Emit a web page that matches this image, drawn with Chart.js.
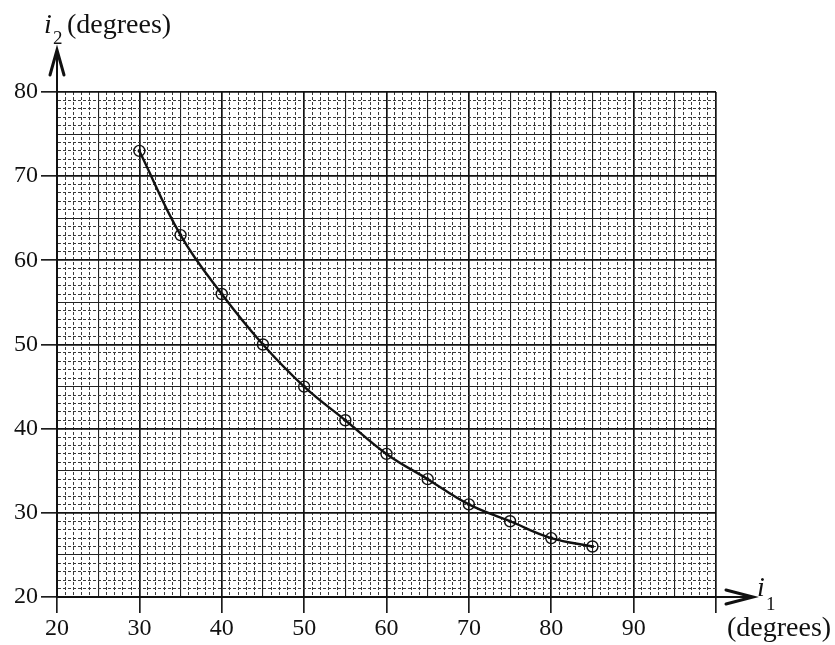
<!DOCTYPE html>
<html>
<head>
<meta charset="utf-8">
<script src="https://cdn.jsdelivr.net/npm/chart.js@4"></script>
<style>
  html, body { margin: 0; padding: 0; background: #fff; }
  #wrap { width: 835px; height: 645px; }
</style>
</head>
<body>
<div id="wrap"><canvas id="graph" width="835" height="645"></canvas></div>
<script>
// Datos
const angleIn = [30, 35, 40, 45, 50, 55, 60, 65, 70, 75, 80, 85];      // i1 (grados)
const angleOut = [73, 63, 56, 50, 45, 41, 37, 34, 31, 29, 27, 26];     // i2 (grados)
const xRange = [20, 100];
const yRange = [20, 80];
const xTickLabels = [20, 30, 40, 50, 60, 70, 80, 90];
const yTickLabels = [20, 30, 40, 50, 60, 70, 80];

const SERIF = '"Liberation Serif", "DejaVu Serif", serif';

// Papel milimetrado: color y grosor según la línea
function gridColor(c) {
    const v = c.tick ? c.tick.value : 0;
    if (v % 10 === 0) return '#111';
    if (v % 5 === 0) return '#222';
    return '#3a3a3a';
}
function gridWidth(c) {
    const v = c.tick ? c.tick.value : 0;
    if (v % 10 === 0) return 1.7;
    if (v % 5 === 0) return 1.1;
    return 1;
}
function gridDash(c) {
    const v = c.tick ? c.tick.value : 0;
    return v % 5 === 0 ? [] : [3, 2];
}
function majorTick(c) {
    const v = c.tick ? c.tick.value : 0;
    return v % 10 === 0 ? '#111' : 'rgba(0,0,0,0)';
}

// Flechas de los ejes y sus títulos
const axisDecor = {
    id: 'axisDecor',
    beforeDraw(chart) {
        const c = chart.ctx;
        c.save();
        c.fillStyle = '#fff';
        c.fillRect(0, 0, chart.width, chart.height);
        c.restore();
    },
    afterDraw(chart) {
        const c = chart.ctx;
        const area = chart.chartArea;
        const x0 = chart.scales.x.getPixelForValue(xRange[0]);
        const y0 = chart.scales.y.getPixelForValue(yRange[0]);
        c.save();
        c.strokeStyle = '#111';
        c.lineCap = 'round';

        // eje vertical hacia arriba
        c.lineWidth = 2;
        c.beginPath();
        c.moveTo(x0, area.top);
        c.lineTo(x0, 52);
        c.stroke();
        c.lineWidth = 3;
        c.beginPath();
        c.moveTo(x0 - 7, 75);
        c.lineTo(x0, 50);
        c.lineTo(x0 + 7, 75);
        c.stroke();

        // eje horizontal hacia la derecha
        c.lineWidth = 2;
        c.beginPath();
        c.moveTo(area.right, y0);
        c.lineTo(752, y0);
        c.stroke();
        c.lineWidth = 3;
        c.beginPath();
        c.moveTo(726, y0 - 7);
        c.lineTo(753, y0);
        c.lineTo(726, y0 + 7);
        c.stroke();

        // títulos
        c.fillStyle = '#111';
        c.textBaseline = 'alphabetic';
        c.textAlign = 'left';
        c.font = 'italic 28px ' + SERIF;
        c.fillText('i', 44, 33);
        c.font = '19px ' + SERIF;
        c.fillText('2', 53, 44);
        c.font = '28px ' + SERIF;
        c.fillText('(degrees)', 67, 33);

        c.font = 'italic 28px ' + SERIF;
        c.fillText('i', 757, 596);
        c.font = '19px ' + SERIF;
        c.fillText('1', 766, 610);
        c.font = '28px ' + SERIF;
        c.fillText('(degrees)', 727, 636);
        c.restore();
    }
};

const points = angleIn.map((x, i) => ({ x: x, y: angleOut[i] }));

new Chart(document.getElementById('graph'), {
    type: 'line',
    data: {
        datasets: [{
            data: points,
            borderColor: '#111',
            borderWidth: 2.4,
            tension: 0.4,
            pointStyle: 'circle',
            pointRadius: 5.5,
            pointBorderWidth: 1.4,
            pointBorderColor: '#111',
            pointBackgroundColor: 'rgba(255,255,255,0)'
        }, {
            data: points,
            showLine: false,
            pointRadius: 1.8,
            pointBorderWidth: 0,
            pointBackgroundColor: '#111'
        }]
    },
    options: {
        responsive: false,
        animation: false,
        layout: { padding: { left: 0, right: 119, top: 92, bottom: 0 } },
        plugins: {
            legend: { display: false },
            tooltip: { enabled: false }
        },
        scales: {
            x: {
                type: 'linear',
                min: xRange[0],
                max: xRange[1],
                afterFit: s => { s.height = 48; },
                ticks: {
                    stepSize: 1,
                    autoSkip: false,
                    maxRotation: 0,
                    minRotation: 0,
                    padding: 1,
                    color: '#111',
                    font: { family: SERIF, size: 24 },
                    callback: v => xTickLabels.includes(v) ? String(v) : ''
                },
                grid: {
                    color: gridColor,
                    lineWidth: gridWidth,
                    tickLength: 16,
                    tickColor: majorTick,
                    tickWidth: 1.6
                },
                border: { color: '#111', width: 2, dash: gridDash }
            },
            y: {
                type: 'linear',
                min: yRange[0],
                max: yRange[1],
                afterFit: s => { s.width = 57; },
                ticks: {
                    stepSize: 1,
                    autoSkip: false,
                    padding: 3,
                    color: '#111',
                    font: { family: SERIF, size: 24 },
                    callback: v => yTickLabels.includes(v) ? String(v) : ''
                },
                grid: {
                    color: gridColor,
                    lineWidth: gridWidth,
                    tickLength: 16,
                    tickColor: majorTick,
                    tickWidth: 1.6
                },
                border: { color: '#111', width: 2, dash: gridDash }
            }
        }
    },
    plugins: [axisDecor]
});
</script>
</body>
</html>
